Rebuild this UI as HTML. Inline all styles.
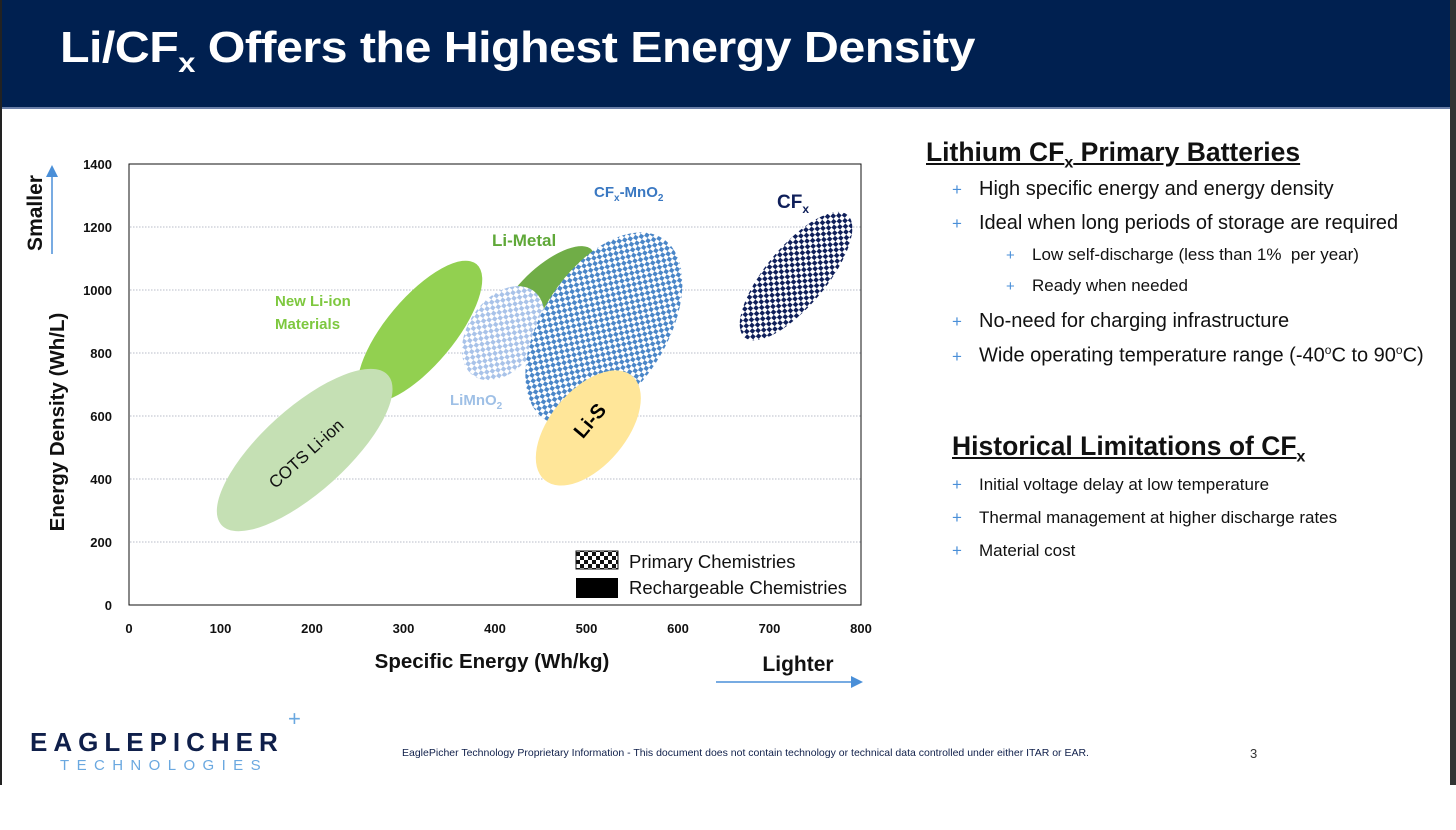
<!DOCTYPE html>
<html><head><meta charset="utf-8"><style>
body{margin:0;width:1456px;height:785px;overflow:hidden;background:#fff;font-family:"Liberation Sans",sans-serif;position:relative}
.abs{position:absolute;white-space:nowrap}
.b{color:#4a8fd8}
</style></head><body>
<div style="position:absolute;left:0;top:0;width:2px;height:785px;background:#222"></div>
<div style="position:absolute;left:1450px;top:0;width:6px;height:785px;background:#333"></div>
<div style="position:absolute;left:2px;top:0;width:1448px;height:107px;background:#002050;border-bottom:2px solid #6a7fa8"></div>
<div class="abs" style="left:60px;top:23px;color:#fff;font-weight:bold;font-size:44px;letter-spacing:-0.5px;transform:scaleX(1.1);transform-origin:0 0">Li/CF<sub style="font-size:28px">x</sub> Offers the Highest Energy Density</div>

<svg width="900" height="700" style="position:absolute;left:0;top:130px" viewBox="0 130 900 700" id="chart">
<defs>
<pattern id="pBlue" width="8" height="8" patternUnits="userSpaceOnUse"><rect width="8" height="8" fill="#fff"/><rect width="4" height="4" fill="#4a86c8"/><rect x="4" y="4" width="4" height="4" fill="#4a86c8"/></pattern>
<pattern id="pLight" width="8" height="8" patternUnits="userSpaceOnUse"><rect width="8" height="8" fill="#fff"/><rect width="4" height="4" fill="#a9c3e9"/><rect x="4" y="4" width="4" height="4" fill="#a9c3e9"/></pattern>
<pattern id="pNavy" width="8" height="8" patternUnits="userSpaceOnUse"><rect width="8" height="8" fill="#fff"/><rect width="4" height="4" fill="#0f1f5a"/><rect x="4" y="4" width="4" height="4" fill="#0f1f5a"/></pattern>
<pattern id="pBlack" width="8" height="8" patternUnits="userSpaceOnUse"><rect width="8" height="8" fill="#fff"/><rect width="4" height="4" fill="#111"/><rect x="4" y="4" width="4" height="4" fill="#111"/></pattern>
<marker id="ah" markerWidth="8" markerHeight="8" refX="6" refY="4" orient="auto"><path d="M0,0 L8,4 L0,8z" fill="#4a8fd8"/></marker>
</defs>
<g id="grid"></g>
<g id="blobs"></g>
<rect x="129" y="164" width="732" height="441" fill="none" stroke="#111" stroke-width="1"/>
<g id="axes" font-family="Liberation Sans" font-weight="bold" font-size="13" fill="#111"></g>
<text x="492" y="668" text-anchor="middle" font-size="20.5" font-weight="bold" fill="#111">Specific Energy (Wh/kg)</text>
<text transform="translate(64,422) rotate(-90)" text-anchor="middle" font-size="20.5" font-weight="bold" fill="#111">Energy Density (Wh/L)</text>
<text transform="translate(42,213) rotate(-90)" text-anchor="middle" font-size="21" font-weight="bold" fill="#111">Smaller</text>
<line x1="52" y1="254" x2="52" y2="168" stroke="#4a8fd8" stroke-width="1.5" marker-end="url(#ah)"/>
<text x="798" y="671" text-anchor="middle" font-size="21" font-weight="bold" fill="#111">Lighter</text>
<line x1="716" y1="682" x2="860" y2="682" stroke="#4a8fd8" stroke-width="1.5" marker-end="url(#ah)"/>
<g font-size="18.5" fill="#111">
<rect x="576" y="551" width="42" height="18" fill="url(#pBlack)" stroke="#111"/>
<text x="629" y="568">Primary Chemistries</text>
<rect x="576" y="578" width="42" height="20" fill="#000"/>
<text x="629" y="594">Rechargeable Chemistries</text>
</g>
</svg>

<div class="abs" style="left:926px;top:137px;font-size:26.5px;font-weight:bold;text-decoration:underline;color:#111">Lithium CF<sub style="font-size:16px">x</sub> Primary Batteries</div>
<div style="font-size:20px;color:#111">
<div class="abs" style="left:952px;top:178px"><span class="b" style="font-size:17px;display:inline-block;width:27px">+</span>High specific energy and energy density</div>
<div class="abs" style="left:952px;top:212px"><span class="b" style="font-size:17px;display:inline-block;width:27px">+</span>Ideal when long periods of storage are required</div>
<div class="abs" style="left:1006px;top:245px;font-size:17px"><span class="b" style="font-size:15px;display:inline-block;width:26px">+</span>Low self-discharge (less than 1%&nbsp; per year)</div>
<div class="abs" style="left:1006px;top:276px;font-size:17px"><span class="b" style="font-size:15px;display:inline-block;width:26px">+</span>Ready when needed</div>
<div class="abs" style="left:952px;top:310px"><span class="b" style="font-size:17px;display:inline-block;width:27px">+</span>No-need for charging infrastructure</div>
<div class="abs" style="left:952px;top:343px"><span class="b" style="font-size:17px;display:inline-block;width:27px">+</span>Wide operating temperature range (-40<sup style="font-size:12px">o</sup>C to 90<sup style="font-size:12px">o</sup>C)</div>
</div>
<div class="abs" style="left:952px;top:431px;font-size:26.5px;font-weight:bold;text-decoration:underline;color:#111">Historical Limitations of CF<sub style="font-size:16px">x</sub></div>
<div style="font-size:17px;color:#111">
<div class="abs" style="left:952px;top:475px"><span class="b" style="display:inline-block;width:27px">+</span>Initial voltage delay at low temperature</div>
<div class="abs" style="left:952px;top:508px"><span class="b" style="display:inline-block;width:27px">+</span>Thermal management at higher discharge rates</div>
<div class="abs" style="left:952px;top:541px"><span class="b" style="display:inline-block;width:27px">+</span>Material cost</div>
</div>

<div class="abs" style="left:30px;top:727px;font-size:26px;font-weight:bold;letter-spacing:6px;color:#0f1f4a">EAGLEPICHER</div>
<div class="abs" style="left:288px;top:706px;font-size:22px;color:#6aa8e0">+</div>
<div class="abs" style="left:60px;top:757px;font-size:15px;letter-spacing:7.4px;color:#6aa8e0">TECHNOLOGIES</div>
<div class="abs" style="left:402px;top:747px;font-size:10.5px;color:#0f1f4a">EaglePicher Technology Proprietary Information - This document does not contain technology or technical data controlled under either ITAR or EAR.</div>
<div class="abs" style="left:1250px;top:746px;font-size:13px;color:#333">3</div>

<script>
const xTicks=[0,100,200,300,400,500,600,700,800];
const yTicks=[0,200,400,600,800,1000,1200,1400];
const chemistries=["COTS Li-ion","New Li-ion","Li-Metal","LiMnO2","CFx-MnO2","Li-S","CFx"];
const centerEnergy=[192,318,457,409,519,502,729];
const centerDensity=[492,868,1000,863,876,562,1044];
const spreadMajor=[112,88,60,52,108,68,80];
const spreadMinor=[42,34,24,35,62,38,30];
const tilt=[-42,-50,-42,-55,-57,-50,-50];
const fills=["#c5e0b4","#92d050","#70ad47","url(#pLight)","url(#pBlue)","#ffe699","url(#pNavy)"];
const drawOrder=[1,0,2,3,4,5,6];
const NS="http://www.w3.org/2000/svg";
const X=v=>129+v*(732/800), Y=v=>605-v*(441/1400);
const grid=document.getElementById('grid'),axes=document.getElementById('axes'),blobs=document.getElementById('blobs');
yTicks.forEach(t=>{
 if(t>0&&t<1400){const l=document.createElementNS(NS,'line');
 
 
 l.setAttribute('x1',130);l.setAttribute('x2',861);l.setAttribute('y1',Y(t));l.setAttribute('y2',Y(t));
 l.setAttribute('stroke','#b8bcc8');l.setAttribute('stroke-dasharray','1.5 1.5');grid.appendChild(l);}
 const tx=document.createElementNS(NS,'text');
 
 
 tx.setAttribute('x',112);tx.setAttribute('y',Y(t)+5);tx.setAttribute('text-anchor','end');tx.textContent=t;axes.appendChild(tx);
});
xTicks.forEach(t=>{const tx=document.createElementNS(NS,'text');
 
 
 tx.setAttribute('x',X(t));tx.setAttribute('y',633);tx.setAttribute('text-anchor','middle');tx.textContent=t;axes.appendChild(tx);});
drawOrder.forEach(i=>{const e=document.createElementNS(NS,'ellipse');
 
 
 const cx=X(centerEnergy[i]),cy=Y(centerDensity[i]);
 e.setAttribute('cx',cx);e.setAttribute('cy',cy);e.setAttribute('rx',spreadMajor[i]);e.setAttribute('ry',spreadMinor[i]);
 e.setAttribute('transform',`rotate(${tilt[i]} ${cx} ${cy})`);e.setAttribute('fill',fills[i]);blobs.appendChild(e);});
const labels=[
 ['COTS Li-ion',310,458,-42,'#111',17,'normal','label-cots'],
 ['Li-S',595,425,-50,'#000',20,'bold','label-li-s']];
labels.forEach(L=>{const t=document.createElementNS(NS,'text');
 
 
 t.setAttribute('x',L[1]);t.setAttribute('y',L[2]);t.setAttribute('text-anchor','middle');
 t.setAttribute('transform',`rotate(${L[3]} ${L[1]} ${L[2]})`);t.setAttribute('fill',L[4]);t.setAttribute('font-size',L[5]);t.setAttribute('font-weight',L[6]);
 t.textContent=L[0];blobs.appendChild(t);});
const plain=[['New Li-ion',275,306,'#7ec83f','label-new-li-ion'],['Materials',275,329,'#7ec83f','label-materials'],['Li-Metal',492,246,'#5fa838','label-li-metal']];
plain.forEach(L=>{const t=document.createElementNS(NS,'text');
 
 
 t.setAttribute('x',L[1]);t.setAttribute('y',L[2]);t.setAttribute('fill',L[3]);t.setAttribute('font-size',L[0]==='Li-Metal'?17:15);t.setAttribute('font-weight','bold');t.textContent=L[0];blobs.appendChild(t);});
blobs.insertAdjacentHTML('beforeend',
 '<text x="450" y="405" fill="#9fc0e6" font-size="15" font-weight="bold">LiMnO<tspan font-size="10" dy="4">2</tspan></text>'+
 '<text x="594" y="197" fill="#3a78c2" font-size="15" font-weight="bold">CF<tspan font-size="10" dy="4">x</tspan><tspan dy="-4">-MnO</tspan><tspan font-size="10" dy="4">2</tspan></text>'+
 '<text x="777" y="208" fill="#0f1f5a" font-size="19" font-weight="bold">CF<tspan font-size="12" dy="5">x</tspan></text>');
</script>
</body></html>
